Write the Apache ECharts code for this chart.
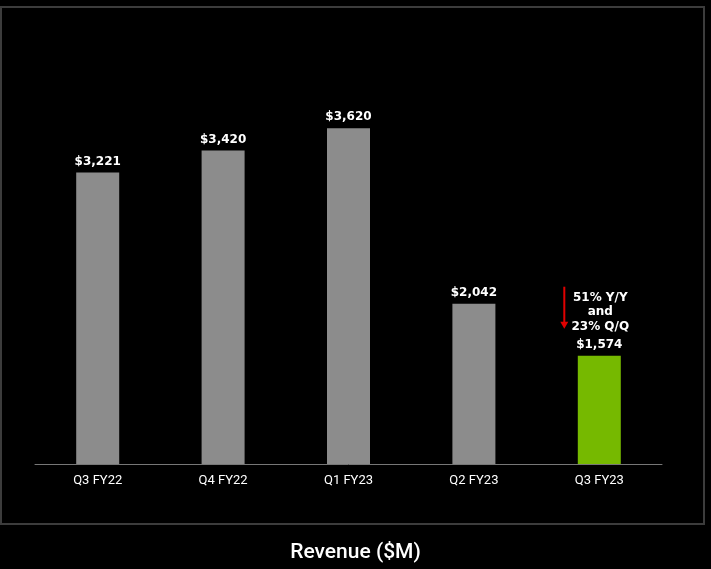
<!DOCTYPE html>
<html>
<head>
<meta charset="utf-8">
<script src="https://cdn.jsdelivr.net/npm/echarts@6/dist/echarts.min.js"></script>
<style>
html,body{margin:0;padding:0;background:#000;}
#main{width:711px;height:569px;}
</style>
</head>
<body>
<div id="main"></div>
<script>
var categories = ['Q3 FY22', 'Q4 FY22', 'Q1 FY23', 'Q2 FY23', 'Q3 FY23'];
var revenue = [3221, 3420, 3620, 2042, 1574];
var barColors = ['#8c8c8c', '#8c8c8c', '#8c8c8c', '#8c8c8c', '#76b900'];
var noteLines = ['51% Y/Y', 'and', '23% Q/Q'];

var chart = echarts.init(document.getElementById('main'));

var barData = [];
for (var i = 0; i < revenue.length; i++) {
	barData.push({ value: revenue[i], itemStyle: { color: barColors[i] } });
}

var option = {
	backgroundColor: '#000',
	animation: false,
	title: {
		text: 'Revenue ($M)',
		left: 'center',
		top: 537,
		textStyle: { color: '#fff', fontSize: 21, fontWeight: 500, fontFamily: 'Roboto' }
	},
	grid: { left: 35, right: 49, top: 86, bottom: 105 },
	xAxis: {
		type: 'category',
		data: categories,
		axisLine: { lineStyle: { color: '#777', width: 1 } },
		axisTick: { show: false },
		axisLabel: { color: '#fff', fontSize: 13, margin: 10, fontFamily: 'Roboto' }
	},
	yAxis: {
		type: 'value',
		min: 600,
		max: 4000,
		show: false,
		splitLine: { show: false }
	},
	series: [{
		type: 'bar',
		data: barData,
		barWidth: 43,
		label: {
			show: true,
			position: 'top',
			distance: 5,
			color: '#fff',
			fontSize: 12,
			fontWeight: 'bold',
			fontFamily: 'DejaVu Sans',
			formatter: function (p) {
				return '$' + p.value.toLocaleString('en-US');
			}
		}
	}]
};
chart.setOption(option);

// annotation above the last bar
var last = revenue.length - 1;
var pt = chart.convertToPixel({ gridIndex: 0 }, [last, revenue[last]]);
var g = [{
	type: 'rect',
	shape: { x: 1, y: 7, width: 703, height: 517 },
	style: { fill: 'none', stroke: '#3c3c3c', lineWidth: 2 },
	silent: true
}];
for (var n = 0; n < noteLines.length; n++) {
	g.push({
		type: 'text',
		x: pt[0] + 1,
		y: pt[1] - 58 + n * 14.5,
		style: {
			text: noteLines[n], fill: '#fff', font: 'bold 12px "DejaVu Sans"',
			align: 'center', verticalAlign: 'middle'
		}
	});
}
g.push({
	type: 'line',
	shape: { x1: pt[0] - 35, y1: pt[1] - 69, x2: pt[0] - 35, y2: pt[1] - 30 },
	style: { stroke: '#e00000', lineWidth: 2 }
});
g.push({
	type: 'polygon',
	shape: { points: [[pt[0] - 39, pt[1] - 34], [pt[0] - 31, pt[1] - 34], [pt[0] - 35, pt[1] - 27]] },
	style: { fill: '#e00000' }
});
chart.setOption({ graphic: g });
</script>
</body>
</html>
